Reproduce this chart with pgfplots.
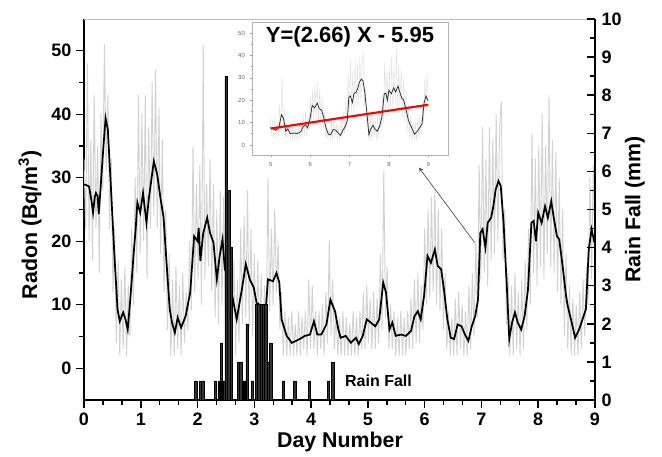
\documentclass[border=0pt]{standalone}
\usepackage{pgfplots}
\pgfplotsset{compat=1.18}
\usepackage{pgfplotstable}
\usepackage{fontspec}
\setmainfont{Liberation Sans}

\pgfplotstableread[row sep=\\]{
x y\\
0.00 33\\ 0.03 22\\ 0.06 48\\ 0.09 20\\ 0.12 36\\ 0.15 17\\ 0.18 43\\ 0.21 22\\ 0.24 35\\ 0.27 15\\
0.30 40\\ 0.33 28\\ 0.36 51\\ 0.39 31\\ 0.42 43\\ 0.45 22\\ 0.48 33\\ 0.51 12\\ 0.54 22\\ 0.57 4\\
0.60 17\\ 0.63 2\\ 0.66 14\\ 0.69 3\\ 0.72 16\\ 0.75 2\\ 0.78 13\\ 0.81 5\\ 0.84 22\\ 0.87 10\\
0.90 30\\ 0.93 15\\ 0.96 43\\ 0.99 18\\ 1.02 40\\ 1.05 20\\ 1.08 43\\ 1.11 14\\ 1.14 38\\ 1.17 22\\
1.20 45\\ 1.23 24\\ 1.26 47\\ 1.29 22\\ 1.32 41\\ 1.35 18\\ 1.38 36\\ 1.41 12\\ 1.44 25\\ 1.47 6\\
1.50 18\\ 1.53 2\\ 1.56 14\\ 1.59 2\\ 1.62 16\\ 1.65 3\\ 1.68 13\\ 1.71 2\\ 1.74 15\\ 1.77 4\\
1.80 12\\ 1.83 6\\ 1.86 20\\ 1.89 9\\ 1.92 35\\ 1.95 12\\ 1.98 29\\ 2.01 14\\ 2.04 32\\ 2.07 10\\
2.10 51\\ 2.13 14\\ 2.16 29\\ 2.19 16\\ 2.22 33\\ 2.25 12\\ 2.28 29\\ 2.31 8\\ 2.34 25\\ 2.37 7\\
2.40 28\\ 2.43 10\\ 2.46 27\\ 2.49 8\\ 2.52 24\\ 2.55 5\\ 2.58 21\\ 2.61 3\\ 2.64 17\\ 2.67 2\\
2.70 14\\ 2.73 4\\ 2.76 22\\ 2.79 7\\ 2.82 24\\ 2.85 8\\ 2.88 28\\ 2.91 6\\ 2.94 22\\ 2.97 5\\
3.00 18\\ 3.03 3\\ 3.06 17\\ 3.09 4\\ 3.12 15\\ 3.15 3\\ 3.18 13\\ 3.21 6\\ 3.24 30\\ 3.27 9\\
3.30 22\\ 3.33 10\\ 3.36 25\\ 3.39 12\\ 3.42 20\\ 3.45 6\\ 3.48 12\\ 3.51 2\\ 3.54 9\\ 3.57 2\\
3.60 8\\ 3.63 2\\ 3.66 9\\ 3.69 2\\ 3.72 7\\ 3.75 2\\ 3.78 9\\ 3.81 2\\ 3.84 8\\ 3.87 3\\
3.90 9\\ 3.93 2\\ 3.96 14\\ 3.99 3\\ 4.02 13\\ 4.05 3\\ 4.08 9\\ 4.11 2\\ 4.14 9\\ 4.17 3\\
4.20 10\\ 4.23 2\\ 4.26 12\\ 4.29 4\\ 4.32 20\\ 4.35 5\\ 4.38 14\\ 4.41 3\\ 4.44 9\\ 4.47 2\\
4.50 8\\ 4.53 2\\ 4.56 9\\ 4.59 2\\ 4.62 8\\ 4.65 2\\ 4.68 7\\ 4.71 2\\ 4.74 9\\ 4.77 2\\
4.80 8\\ 4.83 2\\ 4.86 9\\ 4.89 3\\ 4.92 12\\ 4.95 3\\ 4.98 13\\ 5.01 4\\ 5.04 11\\ 5.07 3\\
5.10 12\\ 5.13 3\\ 5.16 11\\ 5.19 4\\ 5.22 18\\ 5.25 6\\ 5.28 31\\ 5.31 8\\ 5.34 16\\ 5.37 3\\
5.40 10\\ 5.43 3\\ 5.46 9\\ 5.49 2\\ 5.52 8\\ 5.55 2\\ 5.58 9\\ 5.61 2\\ 5.64 8\\ 5.67 2\\
5.70 9\\ 5.73 3\\ 5.76 11\\ 5.79 3\\ 5.82 14\\ 5.85 4\\ 5.88 15\\ 5.91 4\\ 5.94 13\\ 5.97 6\\
6.00 22\\ 6.03 10\\ 6.06 25\\ 6.09 11\\ 6.12 27\\ 6.15 12\\ 6.18 28\\ 6.21 10\\ 6.24 25\\ 6.27 9\\
6.30 22\\ 6.33 6\\ 6.36 15\\ 6.39 3\\ 6.42 9\\ 6.45 2\\ 6.48 8\\ 6.51 2\\ 6.54 11\\ 6.57 2\\
6.60 12\\ 6.63 3\\ 6.66 10\\ 6.69 2\\ 6.72 9\\ 6.75 2\\ 6.78 13\\ 6.81 3\\ 6.84 15\\ 6.87 5\\
6.90 20\\ 6.93 8\\ 6.96 32\\ 6.99 14\\ 7.02 38\\ 7.05 15\\ 7.08 33\\ 7.11 13\\ 7.14 38\\ 7.17 17\\
7.20 36\\ 7.23 18\\ 7.26 40\\ 7.29 20\\ 7.32 38\\ 7.35 42\\ 7.38 17\\ 7.41 25\\ 7.44 7\\ 7.47 15\\
7.50 2\\ 7.53 13\\ 7.56 2\\ 7.59 15\\ 7.62 3\\ 7.65 12\\ 7.68 2\\ 7.71 14\\ 7.74 3\\ 7.77 17\\
7.80 6\\ 7.83 22\\ 7.86 10\\ 7.89 37\\ 7.92 15\\ 7.95 33\\ 7.98 13\\ 8.01 35\\ 8.04 16\\ 8.07 40\\
8.10 14\\ 8.13 35\\ 8.16 18\\ 8.19 43\\ 8.22 16\\ 8.25 36\\ 8.28 15\\ 8.31 34\\ 8.34 12\\ 8.37 30\\
8.40 10\\ 8.43 25\\ 8.46 5\\ 8.49 18\\ 8.52 3\\ 8.55 13\\ 8.58 2\\ 8.61 11\\ 8.64 2\\ 8.67 10\\
8.70 2\\ 8.73 12\\ 8.76 3\\ 8.79 14\\ 8.82 5\\ 8.85 16\\ 8.88 10\\ 8.91 30\\ 8.94 14\\ 8.97 32\\
9.00 20\\
}\graydata

\pgfplotstableread[row sep=\\]{
x y\\
0.00 28.9\\ 0.03 28.9\\ 0.09 28.6\\ 0.13 26.5\\ 0.16 24.5\\ 0.19 27.0\\ 0.21 27.6\\ 0.24 27.1\\ 0.26 24.3\\ 0.29 28.1\\
0.33 33.4\\ 0.38 39.4\\ 0.42 37.6\\ 0.47 29.2\\ 0.53 18.7\\ 0.59 9.3\\ 0.63 7.4\\ 0.69 8.8\\ 0.73 7.7\\ 0.77 6.1\\
0.82 11.4\\ 0.88 18.7\\ 0.91 21.9\\ 0.94 26.1\\ 0.99 24.5\\ 1.04 27.6\\ 1.10 22.9\\ 1.14 26.6\\ 1.23 32.6\\ 1.29 30.5\\
1.35 26.6\\ 1.40 23.9\\ 1.47 14.5\\ 1.51 9.3\\ 1.55 7.2\\ 1.60 5.6\\ 1.65 8.0\\ 1.71 6.4\\ 1.79 8.2\\ 1.87 11.9\\
1.94 20.8\\ 2.00 20.0\\ 2.02 22.1\\ 2.05 16.9\\ 2.10 21.3\\ 2.17 23.7\\ 2.22 21.3\\ 2.28 19.8\\ 2.34 14.0\\ 2.39 17.7\\
2.44 20.3\\ 2.48 15.6\\ 2.54 14.5\\ 2.60 11.9\\ 2.69 7.7\\ 2.78 12.4\\ 2.85 16.4\\ 2.92 14.0\\ 2.99 12.7\\ 3.04 10.3\\
3.13 9.8\\ 3.19 7.7\\ 3.24 14.0\\ 3.33 13.7\\ 3.39 15.0\\ 3.44 13.5\\ 3.48 7.7\\ 3.57 5.1\\ 3.66 4.0\\ 3.80 4.6\\
3.89 5.1\\ 3.98 5.3\\ 4.05 7.4\\ 4.11 5.3\\ 4.18 5.3\\ 4.27 6.9\\ 4.34 10.8\\ 4.42 9.0\\ 4.48 6.1\\ 4.52 4.8\\
4.61 5.1\\ 4.70 4.0\\ 4.79 4.8\\ 4.84 3.8\\ 4.91 5.1\\ 4.98 7.7\\ 5.05 7.2\\ 5.13 6.6\\ 5.20 7.7\\ 5.27 13.5\\
5.32 11.9\\ 5.38 6.1\\ 5.43 7.2\\ 5.49 5.1\\ 5.58 5.3\\ 5.67 5.1\\ 5.76 5.9\\ 5.82 8.2\\ 5.88 9.0\\ 5.93 7.7\\
5.99 11.4\\ 6.05 17.7\\ 6.11 16.6\\ 6.18 18.7\\ 6.23 16.1\\ 6.29 15.6\\ 6.34 12.4\\ 6.40 7.7\\ 6.46 4.8\\ 6.52 4.6\\
6.58 6.9\\ 6.65 6.6\\ 6.71 5.3\\ 6.77 4.3\\ 6.83 6.6\\ 6.89 8.2\\ 6.94 10.8\\ 6.98 21.3\\ 7.02 21.9\\ 7.07 19.0\\
7.11 22.9\\ 7.17 23.7\\ 7.21 25.5\\ 7.25 28.1\\ 7.30 29.5\\ 7.34 28.7\\ 7.39 22.9\\ 7.45 12.4\\ 7.49 4.6\\ 7.54 7.2\\
7.59 8.8\\ 7.64 7.2\\ 7.70 6.1\\ 7.76 8.2\\ 7.82 12.4\\ 7.88 22.9\\ 7.92 23.2\\ 7.96 20.0\\ 8.00 24.5\\ 8.06 22.9\\
8.12 25.5\\ 8.17 23.7\\ 8.23 26.3\\ 8.27 23.9\\ 8.33 20.8\\ 8.37 20.3\\ 8.43 16.1\\ 8.49 11.4\\ 8.52 9.8\\ 8.59 7.2\\
8.65 4.8\\ 8.72 6.1\\ 8.78 7.7\\ 8.84 9.3\\ 8.89 18.7\\ 8.94 21.9\\ 8.99 19.8\\
}\blackdata

\pgfplotstableread[row sep=\\]{
x y\\
1.97 0.5\\ 2.05 0.5\\ 2.09 0.5\\ 2.31 0.5\\ 2.38 0.5\\ 2.40 0.5\\ 2.42 1.5\\ 2.44 0.5\\ 2.46 0.5\\ 2.50 8.5\\
2.55 5.5\\ 2.59 4.0\\ 2.72 1.0\\ 2.76 1.0\\ 2.80 0.5\\ 2.82 0.5\\ 2.84 0.5\\ 2.87 2.0\\ 2.97 0.5\\ 3.04 2.5\\
3.08 2.5\\ 3.12 2.5\\ 3.16 2.5\\ 3.20 2.5\\ 3.25 1.0\\ 3.29 1.5\\ 3.51 0.5\\ 3.71 0.5\\ 3.97 0.5\\ 4.30 0.5\\
4.38 1.0\\
}\raindata

\begin{document}
\begin{tikzpicture}
\useasboundingbox (-63pt,-42.75pt) rectangle (433.5pt,300pt);
% main radon axis
\begin{axis}[
  at={(0,0)}, anchor=south west,
  scale only axis, width=383.25pt, height=285.75pt,
  xmin=0, xmax=9, ymin=-5, ymax=55,
  axis x line*=bottom, axis y line*=left,
  axis line style={-, line width=1.4pt, black},
  xtick={0,1,...,9}, ytick={0,10,...,50},
  minor x tick num=2, minor y tick num=1,
  tick align=outside,
  major tick length=6pt, minor tick length=3.5pt,
  tick style={black, line width=1.1pt},
  ticklabel style={font=\bfseries\fontsize{13.5}{14}\selectfont},
  /pgf/number format/assume math mode=true,
  xlabel={Day Number},
  ylabel={Radon (Bq/m\textsuperscript{3})},
  label style={font=\bfseries\fontsize{16}{18}\selectfont},
  xlabel style={at={(axis description cs:0.501,-0.11)}, anchor=center},
  ylabel style={at={(axis description cs:-0.1057,0.46)}, anchor=center},
]
\addplot[gray!35, line width=0.7pt] table[x=x, y=y] {\graydata};
\addplot[black, line width=1.3pt] table[x=x, y=y] {\blackdata};
\draw[gray!50, line width=0.6pt] (rel axis cs:0,1) -- (rel axis cs:1,1);
\draw[black!70, line width=0.5pt, -stealth] (axis cs:6.88,19.8) -- (axis cs:5.9,31.6);
\node[anchor=west, font=\bfseries\fontsize{12}{12}\selectfont, inner sep=0pt] at (axis cs:4.595,-2.0) {Rain Fall};
\end{axis}
% rain fall axis
\begin{axis}[
  at={(0,0)}, anchor=south west,
  scale only axis, width=383.25pt, height=285.75pt,
  xmin=0, xmax=9, ymin=0, ymax=10,
  axis y line*=right, axis x line=none,
  axis line style={-, line width=1.4pt, black},
  ytick={0,1,...,10}, minor y tick num=1,
  tick align=inside,
  major tick length=6pt, minor tick length=4pt,
  tick style={black, line width=1.1pt},
  ticklabel style={font=\bfseries\fontsize{13.5}{14}\selectfont},
  yticklabel style={xshift=1.5pt},
  /pgf/number format/assume math mode=true,
  ylabel={Rain Fall (mm)},
  label style={font=\bfseries\fontsize{16}{18}\selectfont},
  ylabel style={at={(axis description cs:1.078,0.5)}, anchor=center},
]
\addplot[ybar, bar width=0.04, fill=black!80, draw=black, line width=0.4pt] table[x=x, y=y] {\raindata};
\end{axis}
% inset
\begin{axis}[
  at={(126pt,183.75pt)}, anchor=south west,
  scale only axis, width=147pt, height=99.75pt,
  xmin=4.52, xmax=9.5, ymin=-4.5, ymax=55,
  axis background/.style={fill=white},
  axis line style={gray!60, line width=0.5pt},
  xtick={5,6,...,9}, ytick={0,10,...,50},
  minor x tick num=1, minor y tick num=1,
  tick pos=left, tick align=outside,
  major tick length=1.8pt, minor tick length=1pt,
  tick style={gray!80, line width=0.4pt},
  ticklabel style={font=\fontsize{4.5}{5}\selectfont, text=black!60},
  /pgf/number format/assume math mode=true,
]
\addplot[gray!25, line width=0.3pt, restrict x to domain=4.97:9.01] table[x=x, y=y] {\graydata};
\addplot[black!80, line width=0.6pt, restrict x to domain=4.97:9.01] table[x=x, y=y] {\blackdata};
\addplot[red, line width=1.6pt] coordinates {(5,7.35) (9,17.99)};
\node[font=\bfseries\fontsize{16.5}{18}\selectfont] at (rel axis cs:0.5,0.887) {Y=(2.66) X - 5.95};
\end{axis}
\end{tikzpicture}
\end{document}
